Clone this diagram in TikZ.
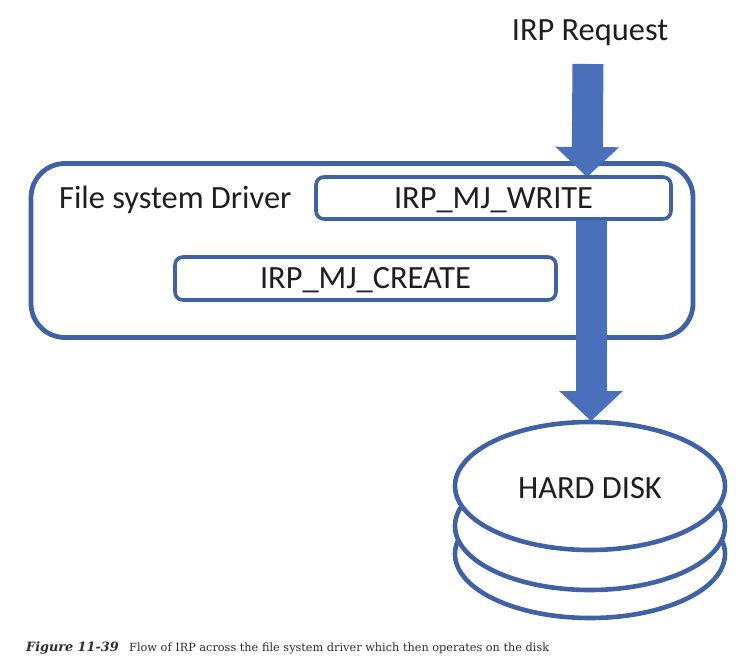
\documentclass[tikz,border=0pt]{standalone}
\usepackage{fontspec}
\setmainfont{Carlito}
\newfontfamily\capfont{DejaVu Serif}
\usetikzlibrary{arrows.meta,shapes.geometric}
\definecolor{edgeblue}{HTML}{3F62A6}
\definecolor{fillblue}{HTML}{4A70BC}
\definecolor{captext}{HTML}{2E2B3A}
\definecolor{labeltext}{HTML}{1E1E1E}
\tikzset{
  x=1pt,y=-1pt,
  outerbox/.style={draw=edgeblue,line width=4.8pt,rounded corners=34pt,fill=white,anchor=north west,inner sep=0pt,outer sep=0pt},
  handler/.style={draw=edgeblue,line width=3.6pt,rounded corners=8pt,fill=white,inner sep=0pt,outer sep=0pt,text=labeltext,text height=24pt,text depth=4pt,font=\fontsize{32.4}{34}\selectfont},
  platter/.style={draw=edgeblue,line width=4.6pt,ellipse,fill=white,inner sep=0pt,outer sep=0pt,minimum width=270pt,minimum height=128pt},
  label/.style={text=labeltext,font=\fontsize{32.4}{34}\selectfont,inner sep=0pt},
  flow/.style={draw=fillblue,line width=31pt,-{Triangle[length=30pt,width=62pt,fill=fillblue]},shorten >=0pt},
  caption/.style={text=captext,inner sep=0pt,anchor=base west,font=\capfont\fontsize{12.8}{14}\selectfont},
}
\begin{document}
\begin{tikzpicture}
\useasboundingbox (0,0) rectangle (745,669);
\node[outerbox,minimum width=662pt,minimum height=174pt] (driver) at (31,163.5) {};
\node[label,anchor=base west] (driverlabel) at (59,208) {File system Driver};
\node[label,anchor=base] (request) at (590,41) {IRP Request};
\node[platter] (disk3) at (590,554) {};
\node[platter] (disk2) at (590,526) {};
\node[platter] (disk1) at (590,486) {};
\node[label,anchor=base] at (disk1.center |- 0,498.5) {HARD DISK};
\coordinate (reqfoot) at (588,64);
\coordinate (writetop) at (587,177);
\draw[flow] (reqfoot) -- (writetop);
\node[handler,minimum width=355pt,minimum height=42pt] (write) at (493.5,198) {IRP\_MJ\_WRITE};
\node[handler,minimum width=381pt,minimum height=43pt] (create) at (365.5,278.5) {IRP\_MJ\_CREATE};
\coordinate (diskstart) at (591,219.5);
\coordinate (disktop) at (591,421);
\draw[flow] (diskstart) -- (disktop);
\node[caption] (capfig) at (26,651) {\textbf{\textit{Figure 11-39}}};
\node[caption] (captext) at (129,651) {\fontsize{11.3}{13}\selectfont Flow of IRP across the file system driver which then operates on the disk};
\end{tikzpicture}
\end{document}
